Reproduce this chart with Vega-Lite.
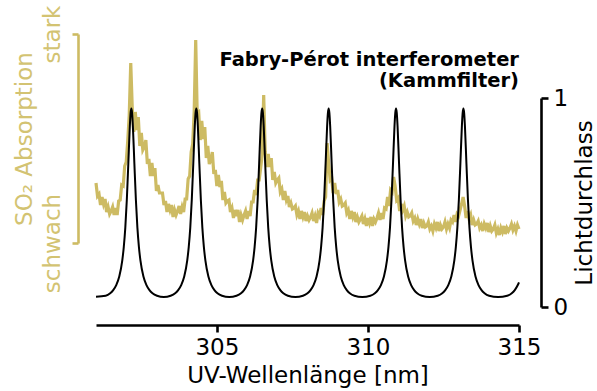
{
  "$schema": "https://vega.github.io/schema/vega-lite/v6.json",
  "width": 423,
  "height": 325,
  "autosize": {"type": "none"},
  "padding": {"left": 96, "top": 0, "right": 78, "bottom": 66},
  "background": "white",
  "config": {"view": {"stroke": null}, "font": "DejaVu Sans", "axis": {"grid": false}},
  "title": {
    "text": ["Fabry-Pérot interferometer", "(Kammfilter)"],
    "anchor": "end",
    "frame": "group",
    "align": "right",
    "baseline": "top",
    "offset": -91,
    "font": "DejaVu Sans",
    "fontSize": 19.5,
    "fontWeight": "bold",
    "lineHeight": 21,
    "color": "black"
  },
  "datasets": {
    "so2": [
      {"w":301,"a":60},{"w":301.05,"a":47},{"w":301.1,"a":49},{"w":301.15,"a":38},{"w":301.2,"a":46},{"w":301.25,"a":39},{"w":301.3,"a":44},{"w":301.35,"a":31},{"w":301.4,"a":36},{"w":301.45,"a":29},
      {"w":301.5,"a":32},{"w":301.55,"a":36},{"w":301.6,"a":28},{"w":301.65,"a":35},{"w":301.7,"a":28},{"w":301.75,"a":42},{"w":301.8,"a":43},{"w":301.85,"a":58},{"w":301.9,"a":57},{"w":301.95,"a":77},
      {"w":302,"a":81},{"w":302.05,"a":102},{"w":302.1,"a":128},{"w":302.15,"a":180},{"w":302.2,"a":135},{"w":302.25,"a":111},{"w":302.3,"a":131},{"w":302.35,"a":113},{"w":302.4,"a":126},{"w":302.45,"a":97},
      {"w":302.5,"a":110},{"w":302.55,"a":93},{"w":302.6,"a":96},{"w":302.65,"a":103},{"w":302.7,"a":79},{"w":302.75,"a":84},{"w":302.8,"a":67},{"w":302.85,"a":80},{"w":302.9,"a":67},{"w":302.95,"a":75},
      {"w":303,"a":52},{"w":303.05,"a":58},{"w":303.1,"a":50},{"w":303.15,"a":50},{"w":303.2,"a":50},{"w":303.25,"a":38},{"w":303.3,"a":42},{"w":303.35,"a":31},{"w":303.4,"a":39},{"w":303.45,"a":33},
      {"w":303.5,"a":38},{"w":303.55,"a":26},{"w":303.6,"a":33},{"w":303.65,"a":28},{"w":303.7,"a":32},{"w":303.75,"a":37},{"w":303.8,"a":29},{"w":303.85,"a":36},{"w":303.9,"a":31},{"w":303.95,"a":44},
      {"w":304,"a":44},{"w":304.05,"a":64},{"w":304.1,"a":67},{"w":304.15,"a":91},{"w":304.2,"a":99},{"w":304.25,"a":132},{"w":304.3,"a":203},{"w":304.35,"a":128},{"w":304.4,"a":130},{"w":304.45,"a":103},
      {"w":304.5,"a":122},{"w":304.55,"a":104},{"w":304.6,"a":116},{"w":304.65,"a":85},{"w":304.7,"a":97},{"w":304.75,"a":79},{"w":304.8,"a":83},{"w":304.85,"a":91},{"w":304.9,"a":69},{"w":304.95,"a":73},
      {"w":305,"a":57},{"w":305.05,"a":68},{"w":305.1,"a":56},{"w":305.15,"a":62},{"w":305.2,"a":43},{"w":305.25,"a":51},{"w":305.3,"a":40},{"w":305.35,"a":42},{"w":305.4,"a":43},{"w":305.45,"a":31},
      {"w":305.5,"a":35},{"w":305.55,"a":25},{"w":305.6,"a":33},{"w":305.65,"a":27},{"w":305.7,"a":33},{"w":305.75,"a":21},{"w":305.8,"a":28},{"w":305.85,"a":23},{"w":305.9,"a":28},{"w":305.95,"a":32},
      {"w":306,"a":24},{"w":306.05,"a":32},{"w":306.1,"a":27},{"w":306.15,"a":41},{"w":306.2,"a":41},{"w":306.25,"a":53},{"w":306.3,"a":48},{"w":306.35,"a":63},{"w":306.4,"a":63},{"w":306.45,"a":75},
      {"w":306.5,"a":88},{"w":306.55,"a":148},{"w":306.6,"a":91},{"w":306.65,"a":76},{"w":306.7,"a":89},{"w":306.75,"a":76},{"w":306.8,"a":85},{"w":306.85,"a":63},{"w":306.9,"a":71},{"w":306.95,"a":60},
      {"w":307,"a":63},{"w":307.05,"a":65},{"w":307.1,"a":51},{"w":307.15,"a":54},{"w":307.2,"a":43},{"w":307.25,"a":52},{"w":307.3,"a":43},{"w":307.35,"a":47},{"w":307.4,"a":36},{"w":307.45,"a":40},
      {"w":307.5,"a":34},{"w":307.55,"a":35},{"w":307.6,"a":37},{"w":307.65,"a":28},{"w":307.7,"a":32},{"w":307.75,"a":24},{"w":307.8,"a":32},{"w":307.85,"a":26},{"w":307.9,"a":31},{"w":307.95,"a":22},
      {"w":308,"a":27},{"w":308.05,"a":23},{"w":308.1,"a":26},{"w":308.15,"a":30},{"w":308.2,"a":22},{"w":308.25,"a":27},{"w":308.3,"a":20},{"w":308.35,"a":30},{"w":308.4,"a":27},{"w":308.45,"a":35},
      {"w":308.5,"a":28},{"w":308.55,"a":42},{"w":308.6,"a":46},{"w":308.65,"a":100},{"w":308.7,"a":80},{"w":308.75,"a":63},{"w":308.8,"a":65},{"w":308.85,"a":50},{"w":308.9,"a":60},{"w":308.95,"a":49},
      {"w":309,"a":53},{"w":309.05,"a":41},{"w":309.1,"a":44},{"w":309.15,"a":37},{"w":309.2,"a":38},{"w":309.25,"a":40},{"w":309.3,"a":30},{"w":309.35,"a":33},{"w":309.4,"a":24},{"w":309.45,"a":32},
      {"w":309.5,"a":26},{"w":309.55,"a":31},{"w":309.6,"a":21},{"w":309.65,"a":26},{"w":309.7,"a":21},{"w":309.75,"a":24},{"w":309.8,"a":27},{"w":309.85,"a":19},{"w":309.9,"a":24},{"w":309.95,"a":17},
      {"w":310,"a":25},{"w":310.05,"a":20},{"w":310.1,"a":26},{"w":310.15,"a":17},{"w":310.2,"a":24},{"w":310.25,"a":21},{"w":310.3,"a":25},{"w":310.35,"a":30},{"w":310.4,"a":23},{"w":310.45,"a":30},
      {"w":310.5,"a":24},{"w":310.55,"a":35},{"w":310.6,"a":34},{"w":310.65,"a":46},{"w":310.7,"a":37},{"w":310.75,"a":53},{"w":310.8,"a":51},{"w":310.85,"a":66},{"w":310.9,"a":57},{"w":310.95,"a":43},
      {"w":311,"a":45},{"w":311.05,"a":32},{"w":311.1,"a":39},{"w":311.15,"a":33},{"w":311.2,"a":37},{"w":311.25,"a":27},{"w":311.3,"a":31},{"w":311.35,"a":26},{"w":311.4,"a":27},{"w":311.45,"a":30},
      {"w":311.5,"a":22},{"w":311.55,"a":25},{"w":311.6,"a":18},{"w":311.65,"a":24},{"w":311.7,"a":19},{"w":311.75,"a":24},{"w":311.8,"a":15},{"w":311.85,"a":20},{"w":311.9,"a":16},{"w":311.95,"a":17},
      {"w":312,"a":21},{"w":312.05,"a":14},{"w":312.1,"a":17},{"w":312.15,"a":12},{"w":312.2,"a":19},{"w":312.25,"a":15},{"w":312.3,"a":21},{"w":312.35,"a":12},{"w":312.4,"a":18},{"w":312.45,"a":14},
      {"w":312.5,"a":16},{"w":312.55,"a":21},{"w":312.6,"a":14},{"w":312.65,"a":19},{"w":312.7,"a":15},{"w":312.75,"a":23},{"w":312.8,"a":21},{"w":312.85,"a":28},{"w":312.9,"a":21},{"w":312.95,"a":29},
      {"w":313,"a":27},{"w":313.05,"a":33},{"w":313.1,"a":39},{"w":313.15,"a":46},{"w":313.2,"a":37},{"w":313.25,"a":25},{"w":313.3,"a":32},{"w":313.35,"a":24},{"w":313.4,"a":28},{"w":313.45,"a":18},
      {"w":313.5,"a":23},{"w":313.55,"a":18},{"w":313.6,"a":19},{"w":313.65,"a":22},{"w":313.7,"a":15},{"w":313.75,"a":18},{"w":313.8,"a":12},{"w":313.85,"a":19},{"w":313.9,"a":15},{"w":313.95,"a":20},
      {"w":314,"a":11},{"w":314.05,"a":17},{"w":314.1,"a":12},{"w":314.15,"a":14},{"w":314.2,"a":18},{"w":314.25,"a":10},{"w":314.3,"a":14},{"w":314.35,"a":8},{"w":314.4,"a":15},{"w":314.45,"a":11},
      {"w":314.5,"a":17},{"w":314.55,"a":9},{"w":314.6,"a":15},{"w":314.65,"a":12},{"w":314.7,"a":15},{"w":314.75,"a":19},{"w":314.8,"a":13},{"w":314.85,"a":17},{"w":314.9,"a":12},{"w":314.95,"a":18},
      {"w":315,"a":14}
    ],
    "fp": [
      {"w":301,"t":0.049},
      {"w":301.32,"t":0.054},{"w":301.47,"t":0.066},{"w":301.57,"t":0.081},{"w":301.67,"t":0.105},{"w":301.77,"t":0.146},{"w":301.87,"t":0.223},{"w":301.92,"t":0.288},{"w":301.97,"t":0.38},{"w":302.02,"t":0.513},{"w":302.07,"t":0.687},{"w":302.12,"t":0.867},{"w":302.145,"t":0.928},{"w":302.17,"t":0.95},{"w":302.195,"t":0.928},{"w":302.22,"t":0.867},{"w":302.27,"t":0.687},{"w":302.32,"t":0.513},{"w":302.37,"t":0.38},{"w":302.42,"t":0.288},{"w":302.47,"t":0.223},{"w":302.57,"t":0.146},{"w":302.67,"t":0.105},{"w":302.77,"t":0.081},{"w":302.87,"t":0.066},{"w":303.02,"t":0.054},
      {"w":303.245,"t":0.048},
      {"w":303.47,"t":0.054},{"w":303.62,"t":0.066},{"w":303.72,"t":0.081},{"w":303.82,"t":0.105},{"w":303.92,"t":0.146},{"w":304.02,"t":0.223},{"w":304.07,"t":0.288},{"w":304.12,"t":0.38},{"w":304.17,"t":0.513},{"w":304.22,"t":0.687},{"w":304.27,"t":0.867},{"w":304.295,"t":0.928},{"w":304.32,"t":0.95},{"w":304.345,"t":0.928},{"w":304.37,"t":0.867},{"w":304.42,"t":0.687},{"w":304.47,"t":0.513},{"w":304.52,"t":0.38},{"w":304.57,"t":0.288},{"w":304.62,"t":0.223},{"w":304.72,"t":0.146},{"w":304.82,"t":0.105},{"w":304.92,"t":0.081},{"w":305.02,"t":0.066},{"w":305.17,"t":0.054},
      {"w":305.41,"t":0.048},
      {"w":305.65,"t":0.054},{"w":305.8,"t":0.066},{"w":305.9,"t":0.081},{"w":306,"t":0.105},{"w":306.1,"t":0.146},{"w":306.2,"t":0.223},{"w":306.25,"t":0.288},{"w":306.3,"t":0.38},{"w":306.35,"t":0.513},{"w":306.4,"t":0.687},{"w":306.45,"t":0.867},{"w":306.475,"t":0.928},{"w":306.5,"t":0.95},{"w":306.525,"t":0.928},{"w":306.55,"t":0.867},{"w":306.6,"t":0.687},{"w":306.65,"t":0.513},{"w":306.7,"t":0.38},{"w":306.75,"t":0.288},{"w":306.8,"t":0.223},{"w":306.9,"t":0.146},{"w":307,"t":0.105},{"w":307.1,"t":0.081},{"w":307.2,"t":0.066},{"w":307.35,"t":0.054},
      {"w":307.6,"t":0.048},
      {"w":307.85,"t":0.054},{"w":308,"t":0.066},{"w":308.1,"t":0.081},{"w":308.2,"t":0.105},{"w":308.3,"t":0.146},{"w":308.4,"t":0.223},{"w":308.45,"t":0.288},{"w":308.5,"t":0.38},{"w":308.55,"t":0.513},{"w":308.6,"t":0.687},{"w":308.65,"t":0.867},{"w":308.675,"t":0.928},{"w":308.7,"t":0.95},{"w":308.725,"t":0.928},{"w":308.75,"t":0.867},{"w":308.8,"t":0.687},{"w":308.85,"t":0.513},{"w":308.9,"t":0.38},{"w":308.95,"t":0.288},{"w":309,"t":0.223},{"w":309.1,"t":0.146},{"w":309.2,"t":0.105},{"w":309.3,"t":0.081},{"w":309.4,"t":0.066},{"w":309.55,"t":0.054},
      {"w":309.815,"t":0.048},
      {"w":310.08,"t":0.054},{"w":310.23,"t":0.066},{"w":310.33,"t":0.081},{"w":310.43,"t":0.105},{"w":310.53,"t":0.146},{"w":310.63,"t":0.223},{"w":310.68,"t":0.288},{"w":310.73,"t":0.38},{"w":310.78,"t":0.513},{"w":310.83,"t":0.687},{"w":310.88,"t":0.867},{"w":310.905,"t":0.928},{"w":310.93,"t":0.95},{"w":310.955,"t":0.928},{"w":310.98,"t":0.867},{"w":311.03,"t":0.687},{"w":311.08,"t":0.513},{"w":311.13,"t":0.38},{"w":311.18,"t":0.288},{"w":311.23,"t":0.223},{"w":311.33,"t":0.146},{"w":311.43,"t":0.105},{"w":311.53,"t":0.081},{"w":311.63,"t":0.066},{"w":311.78,"t":0.054},
      {"w":312.045,"t":0.048},
      {"w":312.31,"t":0.054},{"w":312.46,"t":0.066},{"w":312.56,"t":0.081},{"w":312.66,"t":0.105},{"w":312.76,"t":0.146},{"w":312.86,"t":0.223},{"w":312.91,"t":0.288},{"w":312.96,"t":0.38},{"w":313.01,"t":0.513},{"w":313.06,"t":0.687},{"w":313.11,"t":0.867},{"w":313.135,"t":0.928},{"w":313.16,"t":0.95},{"w":313.185,"t":0.928},{"w":313.21,"t":0.867},{"w":313.26,"t":0.687},{"w":313.31,"t":0.513},{"w":313.36,"t":0.38},{"w":313.41,"t":0.288},{"w":313.46,"t":0.223},{"w":313.56,"t":0.146},{"w":313.66,"t":0.105},{"w":313.76,"t":0.081},{"w":313.86,"t":0.066},{"w":314.01,"t":0.054},
      {"w":314.31,"t":0.048},
      {"w":314.61,"t":0.054},{"w":314.76,"t":0.066},{"w":314.86,"t":0.081},{"w":314.96,"t":0.105},{"w":315,"t":0.118}
    ]
  },
  "encoding": {
    "x": {
      "field": "w",
      "type": "quantitative",
      "scale": {"domain": [301, 315], "nice": false, "zero": false},
      "axis": {
        "title": "UV-Wellenlänge [nm]",
        "values": [305, 310, 315],
        "format": "d",
        "domainColor": "black",
        "domainWidth": 2.6,
        "tickColor": "black",
        "tickWidth": 2.6,
        "tickSize": 7,
        "labelFont": "DejaVu Sans",
        "labelFontSize": 23,
        "labelColor": "black",
        "labelPadding": 4,
        "labelFlush": false,
        "titleFont": "DejaVu Sans",
        "titleFontSize": 23,
        "titleFontWeight": "normal",
        "titleColor": "black",
        "titlePadding": 5
      }
    }
  },
  "layer": [
    {
      "data": {"name": "so2"},
      "mark": {"type": "line", "color": "#cdbb63", "strokeWidth": 3.2, "strokeJoin": "miter", "clip": false},
      "encoding": {
        "y": {
          "field": "a",
          "type": "quantitative",
          "scale": {"domain": [0, 209], "range": [243, 34], "nice": false, "zero": false},
          "axis": {
            "orient": "left",
            "offset": 18,
            "values": [0, 209],
            "labelExpr": "datum.value < 100 ? 'schwach' : 'stark'",
            "title": "SO₂ Absorption",
            "domainColor": "#cdbb63",
            "domainWidth": 2.6,
            "tickColor": "#cdbb63",
            "tickWidth": 2.6,
            "tickSize": 6,
            "labelColor": "#d3c372",
            "labelFont": "DejaVu Sans",
            "labelFontSize": 23,
            "labelAngle": 270,
            "labelAlign": "center",
            "labelBaseline": "alphabetic",
            "labelPadding": 13,
            "labelFlush": false,
            "labelOverlap": false,
            "titleColor": "#d3c372",
            "titleFont": "DejaVu Sans",
            "titleFontSize": 23,
            "titleFontWeight": "normal",
            "titlePadding": 5
          }
        }
      }
    },
    {
      "data": {"name": "fp"},
      "mark": {"type": "line", "color": "black", "strokeWidth": 2, "interpolate": "monotone", "clip": false},
      "encoding": {
        "y": {
          "field": "t",
          "type": "quantitative",
          "scale": {"domain": [0, 1], "range": [307, 98], "nice": false, "zero": false},
          "axis": {
            "orient": "right",
            "offset": 22,
            "values": [0, 1],
            "format": "d",
            "title": "Lichtdurchlass",
            "domainColor": "black",
            "domainWidth": 2.6,
            "tickColor": "black",
            "tickWidth": 2.6,
            "tickSize": 7,
            "labelColor": "black",
            "labelFont": "DejaVu Sans",
            "labelFontSize": 23,
            "labelPadding": 5,
            "labelFlush": false,
            "titleColor": "black",
            "titleFont": "DejaVu Sans",
            "titleFontSize": 23,
            "titleFontWeight": "normal",
            "titleAngle": 270,
            "titleBaseline": "top",
            "titlePadding": 6
          }
        }
      }
    }
  ],
  "resolve": {"scale": {"y": "independent"}}
}
